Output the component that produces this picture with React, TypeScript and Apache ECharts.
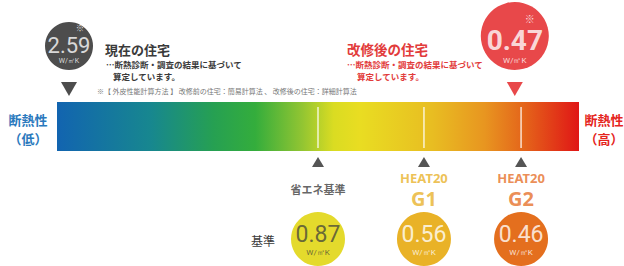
import React, { useEffect, useRef } from 'react';
import * as echarts from 'echarts';

// ---- data ----
const houseLabels = ['現在の住宅', '改修後の住宅'];
const houseValues = [2.59, 0.47];
const houseScale = [2.3, 87.7]; // position on the insulation-performance scale (0 = low, 100 = high)
const standardLabels = ['省エネ基準', 'HEAT20 G1', 'HEAT20 G2'];
const standardValues = [0.87, 0.56, 0.46];
const standardScale = [50, 70.3, 88.9];
const unit = 'W/㎡K';
const noteText = '※【 外皮性能計算方法 】 改修前の住宅：簡易計算法 、 改修後の住宅：詳細計算法';
const subText = ['…断熱診断・調査の結果に基づいて', '算定しています。'];

// ---- styles / layout ----
const FONT = '"Noto Sans CJK JP", "Noto Sans", sans-serif';
const NUM_FONT = 'Roboto, "Noto Sans", sans-serif';
const BAR_TOP = 102;
const BAR_BOTTOM = 151;
const houseColors = ['#4d4d4d', '#e8484a'];
const houseSizes = [48, 68];
const houseRows = [46, 36];
const houseValueRows = [45, 40.5];
const houseUnitRows = [61, 60];
const houseMarkRows = [27, 18];
const houseMarkShift = [11, 15];
const houseNumSize = [22, 28];
const houseUnitSize = [7, 8];
const houseMarkSize = [8.5, 10];
const standardColors = ['#e4da2c', '#e9b227', '#e46f1e'];
const standardTextColors = ['#4a4a3a', '#ffffff', '#ffffff'];
const standardTitleColors = ['#3d3d3d', '#e8b12a', '#e6702a'];

const labelOnly = (data: any[]) => ({ type: 'scatter', symbolSize: 0, silent: true, data });

export default function App() {
  const ref = useRef<HTMLDivElement>(null);
  useEffect(() => {
    document.body.style.margin = '0';
    const chart = echarts.init(ref.current!, null, { renderer: 'svg' });
    const gradient = new echarts.graphic.LinearGradient(0, 0, 1, 0, [
      { offset: 0, color: '#1264b0' },
      { offset: 0.18, color: '#17878f' },
      { offset: 0.3, color: '#26a052' },
      { offset: 0.38, color: '#34ad3c' },
      { offset: 0.47, color: '#92c532' },
      { offset: 0.53, color: '#dadc22' },
      { offset: 0.58, color: '#e9dd22' },
      { offset: 0.72, color: '#e8bd22' },
      { offset: 0.82, color: '#e89520' },
      { offset: 0.9, color: '#e4611a' },
      { offset: 1, color: '#e01616' },
    ]);

    const option: any = {
      animation: false,
      grid: { left: 57, right: 45, top: 0, bottom: 0 },
      xAxis: { type: 'value', min: 0, max: 100, show: false },
      yAxis: { type: 'value', min: 0, max: 266, inverse: true, show: false },
      series: [
        {
          type: 'custom',
          data: [[0, 100]],
          renderItem: (params: any, api: any) => {
            const p0 = api.coord([api.value(0), BAR_TOP]);
            const p1 = api.coord([api.value(1), BAR_BOTTOM]);
            return {
              type: 'rect',
              shape: { x: p0[0], y: p0[1], width: p1[0] - p0[0], height: p1[1] - p0[1] },
              style: { fill: gradient },
            };
          },
        },
        {
          type: 'custom',
          data: standardScale.map((v) => [v]),
          renderItem: (params: any, api: any) => {
            const a = api.coord([api.value(0), BAR_TOP + 5]);
            const b = api.coord([api.value(0), BAR_BOTTOM - 3]);
            return {
              type: 'line',
              shape: { x1: a[0], y1: a[1], x2: b[0], y2: b[1] },
              style: { stroke: '#ffffff', lineWidth: 1.2 },
            };
          },
        },
        // up triangles below the bar
        {
          type: 'scatter',
          symbol: 'triangle',
          symbolSize: [12, 10],
          itemStyle: { color: '#555555', opacity: 1 },
          data: standardScale.map((v) => [v, 162]),
        },
        // standard titles
        labelOnly(
          standardScale.map((v, i) => {
            const parts = standardLabels[i].split(' ');
            return {
              value: [v, 189],
              label: {
                show: true,
                position: 'inside',
                formatter:
                  parts.length > 1 ? `{a|${parts[0]}}\n{b|${parts[1]}}` : `{c|${parts[0]}}`,
                rich: {
                  a: { fontSize: 13, fontWeight: 'bold', color: standardTitleColors[i], lineHeight: 18, fontFamily: '"Noto Sans", sans-serif' },
                  b: { fontSize: 20, fontWeight: 'bold', color: standardTitleColors[i], lineHeight: 22, fontFamily: '"Noto Sans", sans-serif' },
                  c: { fontSize: 11, fontWeight: 'bold', color: standardTitleColors[i], fontFamily: FONT },
                },
              },
            };
          })
        ),
        // standard circles
        {
          type: 'scatter',
          symbolSize: 54,
          silent: true,
          data: standardScale.map((v, i) => ({
            value: [v, 239],
            itemStyle: { color: standardColors[i], opacity: 1 },
          })),
        },
        labelOnly(
          standardScale.map((v, i) => ({
            value: [v, 234],
            label: {
              show: true,
              position: 'inside',
              formatter: standardValues[i].toFixed(2),
              fontSize: 23,
              color: standardTextColors[i],
              fontFamily: NUM_FONT,
            },
          }))
        ),
        labelOnly(
          standardScale.map((v, i) => ({
            value: [v, 252],
            label: {
              show: true,
              position: 'inside',
              formatter: unit,
              fontSize: 8,
              color: standardTextColors[i],
              fontFamily: NUM_FONT,
            },
          }))
        ),
        // house circles
        {
          type: 'scatter',
          silent: true,
          data: houseScale.map((v, i) => ({
            value: [v, houseRows[i]],
            symbolSize: houseSizes[i],
            itemStyle: { color: houseColors[i], opacity: 1 },
          })),
        },
        labelOnly(
          houseScale.map((v, i) => ({
            value: [v, houseValueRows[i]],
            label: {
              show: true,
              position: 'inside',
              formatter: houseValues[i].toFixed(2),
              fontSize: houseNumSize[i],
              fontWeight: i === 0 ? 'normal' : 'bold',
              color: '#ffffff',
              fontFamily: NUM_FONT,
            },
          }))
        ),
        labelOnly(
          houseScale.map((v, i) => ({
            value: [v, houseUnitRows[i]],
            label: {
              show: true,
              position: 'inside',
              formatter: unit,
              fontSize: houseUnitSize[i],
              color: '#ffffff',
              fontFamily: NUM_FONT,
            },
          }))
        ),
        labelOnly(
          houseScale.map((v, i) => ({
            value: [v, houseMarkRows[i]],
            label: {
              show: true,
              position: 'inside',
              offset: [houseMarkShift[i], 0],
              formatter: '※',
              fontSize: houseMarkSize[i],
              color: '#ffffff',
              fontFamily: FONT,
            },
          }))
        ),
        // down triangles under house circles
        {
          type: 'scatter',
          symbol: 'triangle',
          symbolRotate: 180,
          symbolSize: [16, 14],
          data: houseScale.map((v, i) => ({ value: [v, 89], itemStyle: { color: houseColors[i], opacity: 1 } })),
        },
      ],
      graphic: [
        // side labels
        { type: 'text', style: { x: 28, y: 119, text: '断熱性', font: `bold 13px ${FONT}`, fill: '#2a79bd', align: 'center', verticalAlign: 'middle' } },
        { type: 'text', style: { x: 28, y: 138, text: '（低）', font: `bold 13px ${FONT}`, fill: '#2a79bd', align: 'center', verticalAlign: 'middle' } },
        { type: 'text', style: { x: 604, y: 119, text: '断熱性', font: `bold 13px ${FONT}`, fill: '#e52420', align: 'center', verticalAlign: 'middle' } },
        { type: 'text', style: { x: 604, y: 138, text: '（高）', font: `bold 13px ${FONT}`, fill: '#e52420', align: 'center', verticalAlign: 'middle' } },
        // house titles
        { type: 'text', style: { x: 105, y: 49, text: houseLabels[0], font: `bold 13px ${FONT}`, fill: '#3a3a3a', verticalAlign: 'middle' } },
        { type: 'text', style: { x: 106, y: 64, text: subText[0], font: `bold 8.5px ${FONT}`, fill: '#3a3a3a', verticalAlign: 'middle' } },
        { type: 'text', style: { x: 113, y: 76, text: subText[1], font: `bold 8.5px ${FONT}`, fill: '#3a3a3a', verticalAlign: 'middle' } },
        { type: 'text', style: { x: 347, y: 49, text: houseLabels[1], font: `bold 13.5px ${FONT}`, fill: '#e23b3b', verticalAlign: 'middle' } },
        { type: 'text', style: { x: 347, y: 64, text: subText[0], font: `bold 8.5px ${FONT}`, fill: '#e23b3b', verticalAlign: 'middle' } },
        { type: 'text', style: { x: 357, y: 76, text: subText[1], font: `bold 8.5px ${FONT}`, fill: '#e23b3b', verticalAlign: 'middle' } },
        // note
        { type: 'text', style: { x: 97, y: 91, text: noteText, font: `7px ${FONT}`, fill: '#777777', verticalAlign: 'middle' } },
        // 基準
        { type: 'text', style: { x: 263, y: 240, text: '基準', font: `12px ${FONT}`, fill: '#3a3a3a', align: 'center', verticalAlign: 'middle' } },
      ],
    };
    chart.setOption(option);
    return () => chart.dispose();
  }, []);
  return <div ref={ref} style={{ width: 624, height: 266 }} />;
}
